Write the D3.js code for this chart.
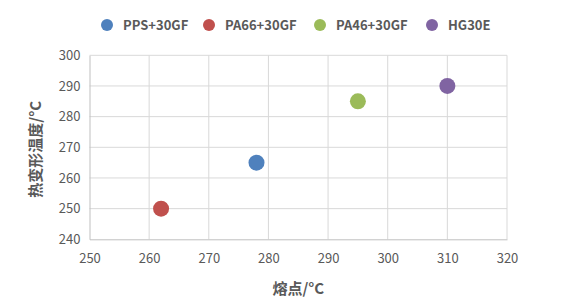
<!DOCTYPE html>
<html><head><meta charset="utf-8">
<script src="https://cdn.jsdelivr.net/npm/d3@7"></script>
<style>
body{margin:0;background:#fff;}
text{font-family:"Microsoft YaHei","Noto Sans CJK SC","Noto Sans",sans-serif;}
</style></head>
<body><svg id="c" width="567" height="305"></svg>
<script>
const seriesNames = ["PPS+30GF","PA66+30GF","PA46+30GF","HG30E"];
const seriesColors = ["#4f81bd","#c0504d","#9bbb59","#8064a2"];
const meltingPoint = [278, 262, 295, 310];
const hdt = [265, 250, 285, 290];
const xTicks = [250,260,270,280,290,300,310,320];
const yTicks = [240,250,260,270,280,290,300];
const xTitle = "熔点/°C";
const yTitle = "热变形温度/°C";

const svg = d3.select("#c");
const m = {l:89.5, r:507, t:55.3, b:239.3};
const x = d3.scaleLinear().domain([250,320]).range([m.l,m.r]);
const y = d3.scaleLinear().domain([240,300]).range([m.b,m.t]);

// gridlines
const g = svg.append("g");
g.selectAll(".vx").data(xTicks.slice(1)).enter().append("line")
 .attr("x1",d=>x(d)).attr("x2",d=>x(d)).attr("y1",m.t).attr("y2",m.b)
 .attr("stroke","#d9d9d9").attr("stroke-width",1);
g.selectAll(".hy").data(yTicks.slice(1)).enter().append("line")
 .attr("x1",m.l).attr("x2",m.r).attr("y1",d=>y(d)).attr("y2",d=>y(d))
 .attr("stroke","#d9d9d9").attr("stroke-width",1);

// axes
const xa = svg.append("g").attr("transform",`translate(0,${m.b})`)
 .call(d3.axisBottom(x).tickValues(xTicks).tickSize(0).tickPadding(14));
const ya = svg.append("g").attr("transform",`translate(${m.l},0)`)
 .call(d3.axisLeft(y).tickValues(yTicks).tickSize(0).tickPadding(9));
[xa,ya].forEach(a=>{
  a.select(".domain").attr("stroke","#bfbfbf");
  a.selectAll("text").attr("fill","#595959").style("font-size","13px");
});

// points
svg.selectAll(".pt").data(seriesNames).enter().append("circle")
 .attr("cx",(d,i)=>x(meltingPoint[i])).attr("cy",(d,i)=>y(hdt[i]))
 .attr("r",8).attr("fill",(d,i)=>seriesColors[i]);

// titles
svg.append("text").attr("x",(m.l+m.r)/2).attr("y",294).attr("text-anchor","middle")
 .attr("fill","#595959").style("font-size","15px").style("font-weight","bold").text(xTitle);
svg.append("text").attr("transform",`translate(41,${(m.t+m.b)/2+2}) rotate(-90)`)
 .attr("text-anchor","middle").attr("fill","#595959").style("font-size","15px")
 .style("font-weight","bold").text(yTitle);

// legend
const legX = [107,209,320,432];
const lg = svg.selectAll(".lg").data(seriesNames).enter().append("g")
 .attr("transform",(d,i)=>`translate(${legX[i]},25)`);
lg.append("circle").attr("r",6).attr("fill",(d,i)=>seriesColors[i]);
lg.append("text").attr("x",16).attr("y",5).attr("fill","#595959")
 .style("font-size","13px").style("font-weight","bold").text(d=>d);
</script></body></html>
